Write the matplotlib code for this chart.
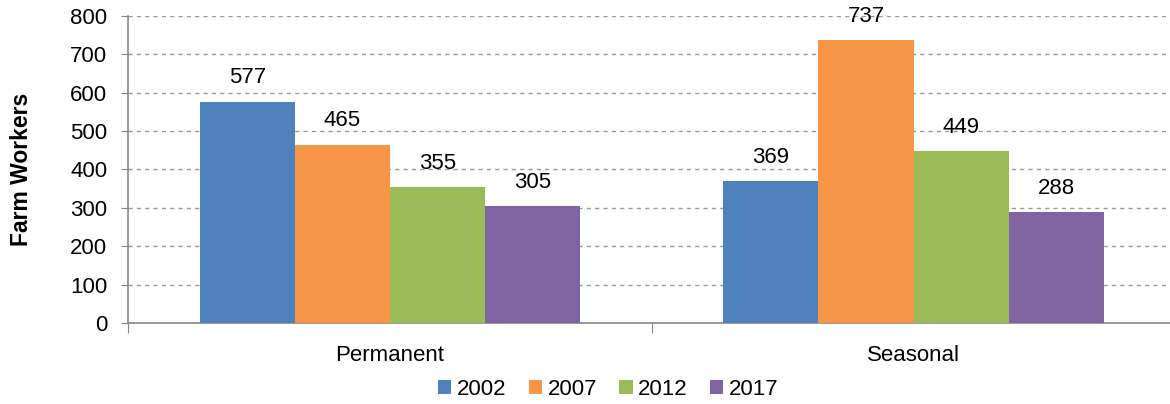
import matplotlib.pyplot as plt
import numpy as np

plt.rcParams['font.family'] = ['Liberation Sans', 'DejaVu Sans']

categories = ["Permanent", "Seasonal"]
years = ["2002", "2007", "2012", "2017"]
workers = {
    "2002": [577, 369],
    "2007": [465, 737],
    "2012": [355, 449],
    "2017": [305, 288],
}
colors = ["#4F81BD", "#F79646", "#9BBB59", "#8064A2"]

fig = plt.figure(figsize=(11.7, 4.04), dpi=100)
ax = fig.add_axes([0.1096, 0.2005, 0.8949, 0.76])

x = np.arange(len(categories))
w = 0.1815
for i, yr in enumerate(years):
    off = (i - 1.5) * w
    bars = ax.bar(x + off, workers[yr], w, color=colors[i], label=yr, zorder=3)
    for b, v in zip(bars, workers[yr]):
        ax.text(b.get_x() + w / 2, v + 34, str(v), ha="center", va="bottom", fontsize=16)

ax.set_xlim(-0.5, 1.5)
ax.set_ylim(0, 800)
ax.set_yticks(range(0, 801, 100))
ax.tick_params(axis="y", labelsize=16, length=5, color="#888888", pad=10)

# category labels between boundary ticks
ax.set_xticks([-0.5, 0.5, 1.5])
ax.set_xticklabels([])
ax.set_xticks(x, minor=True)
ax.set_xticklabels(categories, minor=True, fontsize=16)
ax.tick_params(axis="x", which="major", length=7, color="#888888")
ax.tick_params(axis="x", which="minor", length=0, pad=16)

ax.grid(axis="y", linestyle=(0, (3, 3)), color="#999999", linewidth=1, zorder=0)
for s in ["top", "right"]:
    ax.spines[s].set_visible(False)
for s in ["left", "bottom"]:
    ax.spines[s].set_color("#888888")
    ax.spines[s].set_linewidth(1.2)

ax.set_ylabel("Farm Workers", fontsize=16.5, fontweight="bold", labelpad=27)

fig.legend(loc="lower center", bbox_to_anchor=(0.52, -0.04), ncol=4, frameon=False,
           fontsize=16, handlelength=0.6, handleheight=0.6, handletextpad=0.25,
           columnspacing=1.0)

fig.savefig("out.png", dpi=100)
